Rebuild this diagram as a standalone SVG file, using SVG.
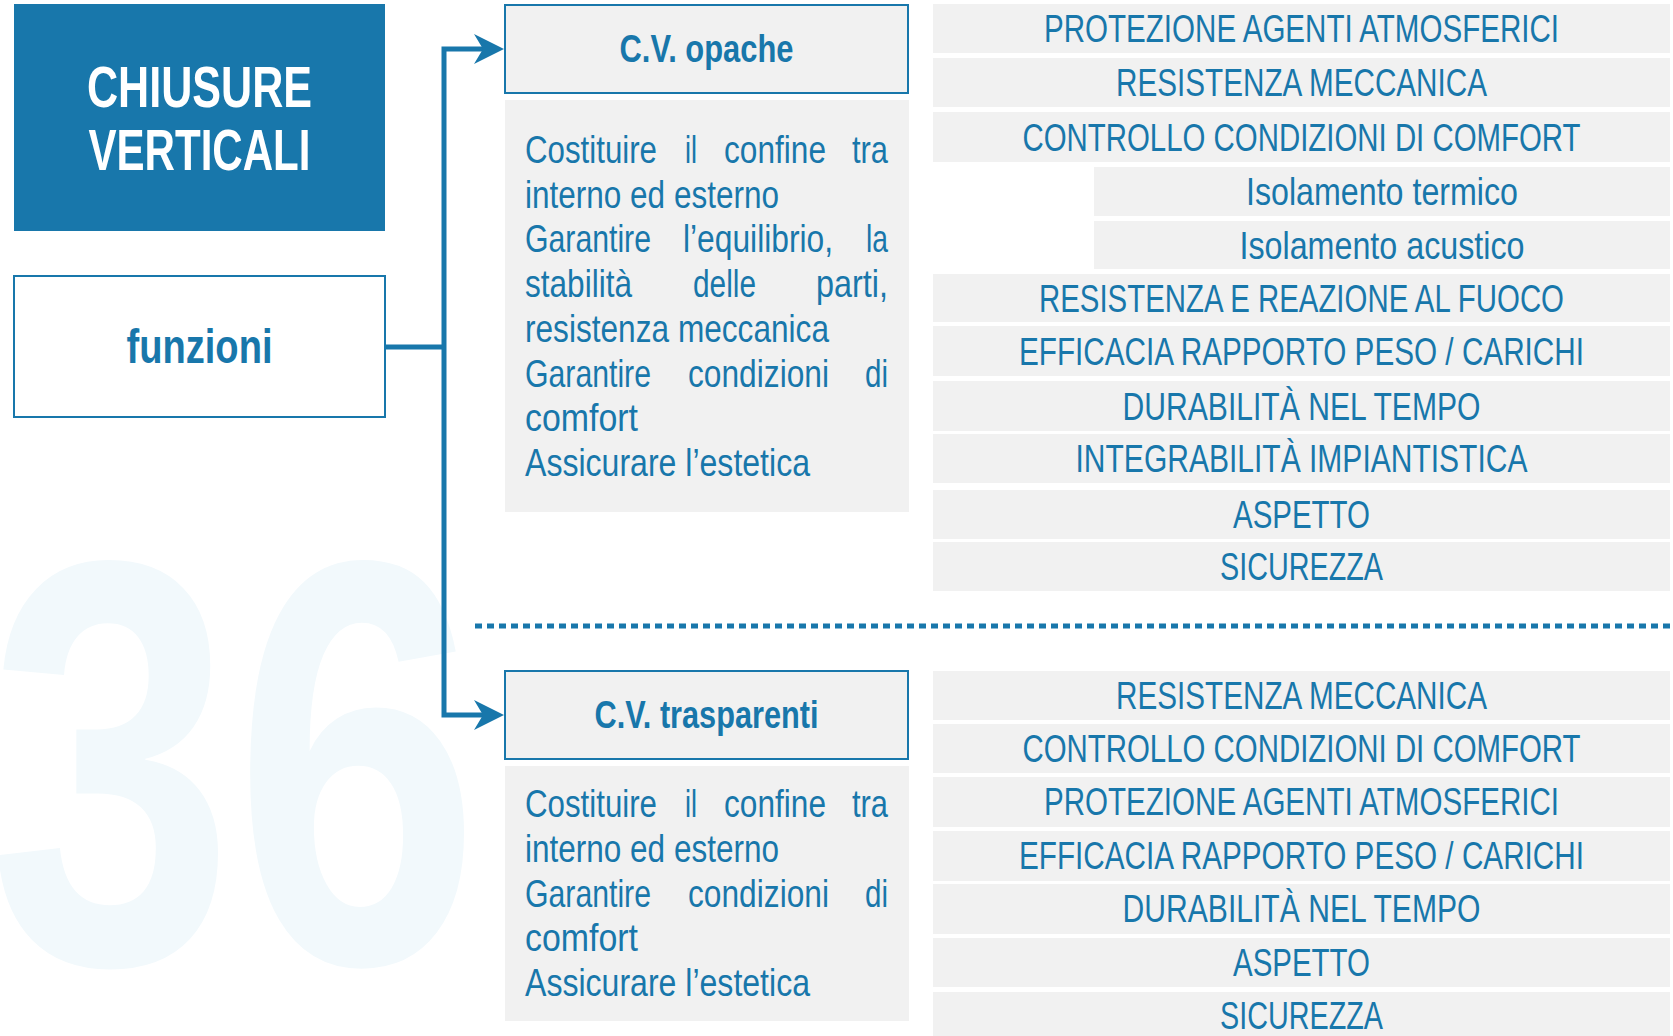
<svg xmlns="http://www.w3.org/2000/svg" width="1673" height="1036" viewBox="0 0 1673 1036">
<style>
.bg{fill:#ffffff}
.title{fill:#1877ab}
.tt{font-family:"Liberation Sans",Arial,sans-serif;font-weight:bold;fill:#ffffff;font-size:57px}
.outline{fill:#ffffff;stroke:#1877ab;stroke-width:2}
.head{fill:#f1f1f1;stroke:#1877ab;stroke-width:2}
.gray{fill:#f1f1f1}
.bt{font-family:"Liberation Sans",Arial,sans-serif;font-weight:bold;fill:#1877ab}
.t{font-family:"Liberation Sans",Arial,sans-serif;fill:#1877ab;font-size:39px}
.c{text-anchor:middle}
.wm{font-family:"Liberation Sans",Arial,sans-serif;font-weight:bold;fill:#f2f9fc;font-size:577px}
.conn{fill:none;stroke:#1877ab;stroke-width:5;stroke-linejoin:miter}
.dots{fill:none;stroke:#1877ab;stroke-width:5;stroke-dasharray:7 5}
</style>
<defs>
<marker id="arrow" markerUnits="userSpaceOnUse" markerWidth="30" markerHeight="30" refX="16" refY="15" orient="auto">
<path d="M0,0 L30,15 L0,30 L9,15 Z" fill="#1877ab"/>
</marker>
</defs>
<rect class="bg" x="0" y="0" width="1673" height="1036"/>
<text class="wm" x="-12" y="963" textLength="492" lengthAdjust="spacingAndGlyphs">36</text>

<g id="node-chiusure">
<rect class="title" x="14" y="4" width="371" height="227"/>
<text class="tt c" x="199.5" y="107" textLength="225" lengthAdjust="spacingAndGlyphs">CHIUSURE</text>
<text class="tt c" x="199.5" y="170" textLength="222" lengthAdjust="spacingAndGlyphs">VERTICALI</text>
</g>

<g id="node-funzioni">
<rect class="outline" x="14" y="276" width="371" height="141"/>
<text class="bt c" x="199.5" y="363" font-size="48" textLength="146" lengthAdjust="spacingAndGlyphs">funzioni</text>
</g>

<g id="connectors">
<path class="conn" d="M385,347 H444"/>
<path class="conn" d="M444,347 V49 H490" marker-end="url(#arrow)"/>
<path class="conn" d="M444,347 V715 H490" marker-end="url(#arrow)"/>
<path class="dots" d="M475,626 H1670"/>
</g>

<g id="node-cv-opache">
<rect class="head" x="505" y="5" width="403" height="88"/>
<text class="bt c" x="706.5" y="62" font-size="39" textLength="174" lengthAdjust="spacingAndGlyphs">C.V. opache</text>
</g>

<g id="node-opache-desc">
<rect class="gray" x="505" y="100" width="404" height="412"/>
<text class="t" x="525" y="163" textLength="132" lengthAdjust="spacingAndGlyphs">Costituire</text>
<text class="t" x="685" y="163" textLength="12" lengthAdjust="spacingAndGlyphs">il</text>
<text class="t" x="724" y="163" textLength="102" lengthAdjust="spacingAndGlyphs">confine</text>
<text class="t" x="852" y="163" textLength="36" lengthAdjust="spacingAndGlyphs">tra</text>
<text class="t" x="525" y="207.7" textLength="254" lengthAdjust="spacingAndGlyphs">interno ed esterno</text>
<text class="t" x="525" y="252.4" textLength="126" lengthAdjust="spacingAndGlyphs">Garantire</text>
<text class="t" x="683" y="252.4" textLength="150" lengthAdjust="spacingAndGlyphs">l’equilibrio,</text>
<text class="t" x="866" y="252.4" textLength="22" lengthAdjust="spacingAndGlyphs">la</text>
<text class="t" x="525" y="297" textLength="107" lengthAdjust="spacingAndGlyphs">stabilità</text>
<text class="t" x="693" y="297" textLength="63" lengthAdjust="spacingAndGlyphs">delle</text>
<text class="t" x="816" y="297" textLength="72" lengthAdjust="spacingAndGlyphs">parti,</text>
<text class="t" x="525" y="341.8" textLength="304" lengthAdjust="spacingAndGlyphs">resistenza meccanica</text>
<text class="t" x="525" y="386.5" textLength="126" lengthAdjust="spacingAndGlyphs">Garantire</text>
<text class="t" x="688" y="386.5" textLength="141" lengthAdjust="spacingAndGlyphs">condizioni</text>
<text class="t" x="865" y="386.5" textLength="23" lengthAdjust="spacingAndGlyphs">di</text>
<text class="t" x="525" y="431" textLength="113" lengthAdjust="spacingAndGlyphs">comfort</text>
<text class="t" x="525" y="476" textLength="285" lengthAdjust="spacingAndGlyphs">Assicurare l’estetica</text>
</g>

<g id="node-cv-trasparenti">
<rect class="head" x="505" y="671" width="403" height="88"/>
<text class="bt c" x="706.5" y="728" font-size="39" textLength="224" lengthAdjust="spacingAndGlyphs">C.V. trasparenti</text>
</g>

<g id="node-trasparenti-desc">
<rect class="gray" x="505" y="766" width="404" height="255"/>
<text class="t" x="525" y="817" textLength="132" lengthAdjust="spacingAndGlyphs">Costituire</text>
<text class="t" x="685" y="817" textLength="12" lengthAdjust="spacingAndGlyphs">il</text>
<text class="t" x="724" y="817" textLength="102" lengthAdjust="spacingAndGlyphs">confine</text>
<text class="t" x="852" y="817" textLength="36" lengthAdjust="spacingAndGlyphs">tra</text>
<text class="t" x="525" y="862" textLength="254" lengthAdjust="spacingAndGlyphs">interno ed esterno</text>
<text class="t" x="525" y="907" textLength="126" lengthAdjust="spacingAndGlyphs">Garantire</text>
<text class="t" x="688" y="907" textLength="141" lengthAdjust="spacingAndGlyphs">condizioni</text>
<text class="t" x="865" y="907" textLength="23" lengthAdjust="spacingAndGlyphs">di</text>
<text class="t" x="525" y="951" textLength="113" lengthAdjust="spacingAndGlyphs">comfort</text>
<text class="t" x="525" y="996" textLength="285" lengthAdjust="spacingAndGlyphs">Assicurare l’estetica</text>
</g>

<g id="node-opache-r1"><rect class="gray" x="933" y="4" width="737" height="49"/><text class="t c" x="1301.5" y="42" textLength="515" lengthAdjust="spacingAndGlyphs">PROTEZIONE AGENTI ATMOSFERICI</text></g>
<g id="node-opache-r2"><rect class="gray" x="933" y="58" width="737" height="49"/><text class="t c" x="1301.5" y="96" textLength="371" lengthAdjust="spacingAndGlyphs">RESISTENZA MECCANICA</text></g>
<g id="node-opache-r3"><rect class="gray" x="933" y="112" width="737" height="50"/><text class="t c" x="1301.5" y="151" textLength="558" lengthAdjust="spacingAndGlyphs">CONTROLLO CONDIZIONI DI COMFORT</text></g>
<g id="node-opache-r4"><rect class="gray" x="1094" y="167" width="576" height="49"/><text class="t c" x="1382" y="205" textLength="272" lengthAdjust="spacingAndGlyphs">Isolamento termico</text></g>
<g id="node-opache-r5"><rect class="gray" x="1094" y="221" width="576" height="48"/><text class="t c" x="1382" y="259" textLength="285" lengthAdjust="spacingAndGlyphs">Isolamento acustico</text></g>
<g id="node-opache-r6"><rect class="gray" x="933" y="274" width="737" height="48"/><text class="t c" x="1301.5" y="312" textLength="525" lengthAdjust="spacingAndGlyphs">RESISTENZA E REAZIONE AL FUOCO</text></g>
<g id="node-opache-r7"><rect class="gray" x="933" y="326" width="737" height="50"/><text class="t c" x="1301.5" y="365" textLength="565" lengthAdjust="spacingAndGlyphs">EFFICACIA RAPPORTO PESO / CARICHI</text></g>
<g id="node-opache-r8"><rect class="gray" x="933" y="381" width="737" height="50"/><text class="t c" x="1301.5" y="420" textLength="358" lengthAdjust="spacingAndGlyphs">DURABILITÀ NEL TEMPO</text></g>
<g id="node-opache-r9"><rect class="gray" x="933" y="434" width="737" height="49"/><text class="t c" x="1301.5" y="472" textLength="452" lengthAdjust="spacingAndGlyphs">INTEGRABILITÀ IMPIANTISTICA</text></g>
<g id="node-opache-r10"><rect class="gray" x="933" y="490" width="737" height="49"/><text class="t c" x="1301.5" y="528" textLength="137" lengthAdjust="spacingAndGlyphs">ASPETTO</text></g>
<g id="node-opache-r11"><rect class="gray" x="933" y="542" width="737" height="49"/><text class="t c" x="1301.5" y="580" textLength="163" lengthAdjust="spacingAndGlyphs">SICUREZZA</text></g>

<g id="node-trasp-r1"><rect class="gray" x="933" y="671" width="737" height="49"/><text class="t c" x="1301.5" y="709" textLength="371" lengthAdjust="spacingAndGlyphs">RESISTENZA MECCANICA</text></g>
<g id="node-trasp-r2"><rect class="gray" x="933" y="724" width="737" height="49"/><text class="t c" x="1301.5" y="762" textLength="558" lengthAdjust="spacingAndGlyphs">CONTROLLO CONDIZIONI DI COMFORT</text></g>
<g id="node-trasp-r3"><rect class="gray" x="933" y="777" width="737" height="50"/><text class="t c" x="1301.5" y="815" textLength="515" lengthAdjust="spacingAndGlyphs">PROTEZIONE AGENTI ATMOSFERICI</text></g>
<g id="node-trasp-r4"><rect class="gray" x="933" y="831" width="737" height="50"/><text class="t c" x="1301.5" y="869" textLength="565" lengthAdjust="spacingAndGlyphs">EFFICACIA RAPPORTO PESO / CARICHI</text></g>
<g id="node-trasp-r5"><rect class="gray" x="933" y="884" width="737" height="50"/><text class="t c" x="1301.5" y="922" textLength="358" lengthAdjust="spacingAndGlyphs">DURABILITÀ NEL TEMPO</text></g>
<g id="node-trasp-r6"><rect class="gray" x="933" y="938" width="737" height="49"/><text class="t c" x="1301.5" y="976" textLength="137" lengthAdjust="spacingAndGlyphs">ASPETTO</text></g>
<g id="node-trasp-r7"><rect class="gray" x="933" y="992" width="737" height="44"/><text class="t c" x="1301.5" y="1029" textLength="163" lengthAdjust="spacingAndGlyphs">SICUREZZA</text></g>
</svg>
